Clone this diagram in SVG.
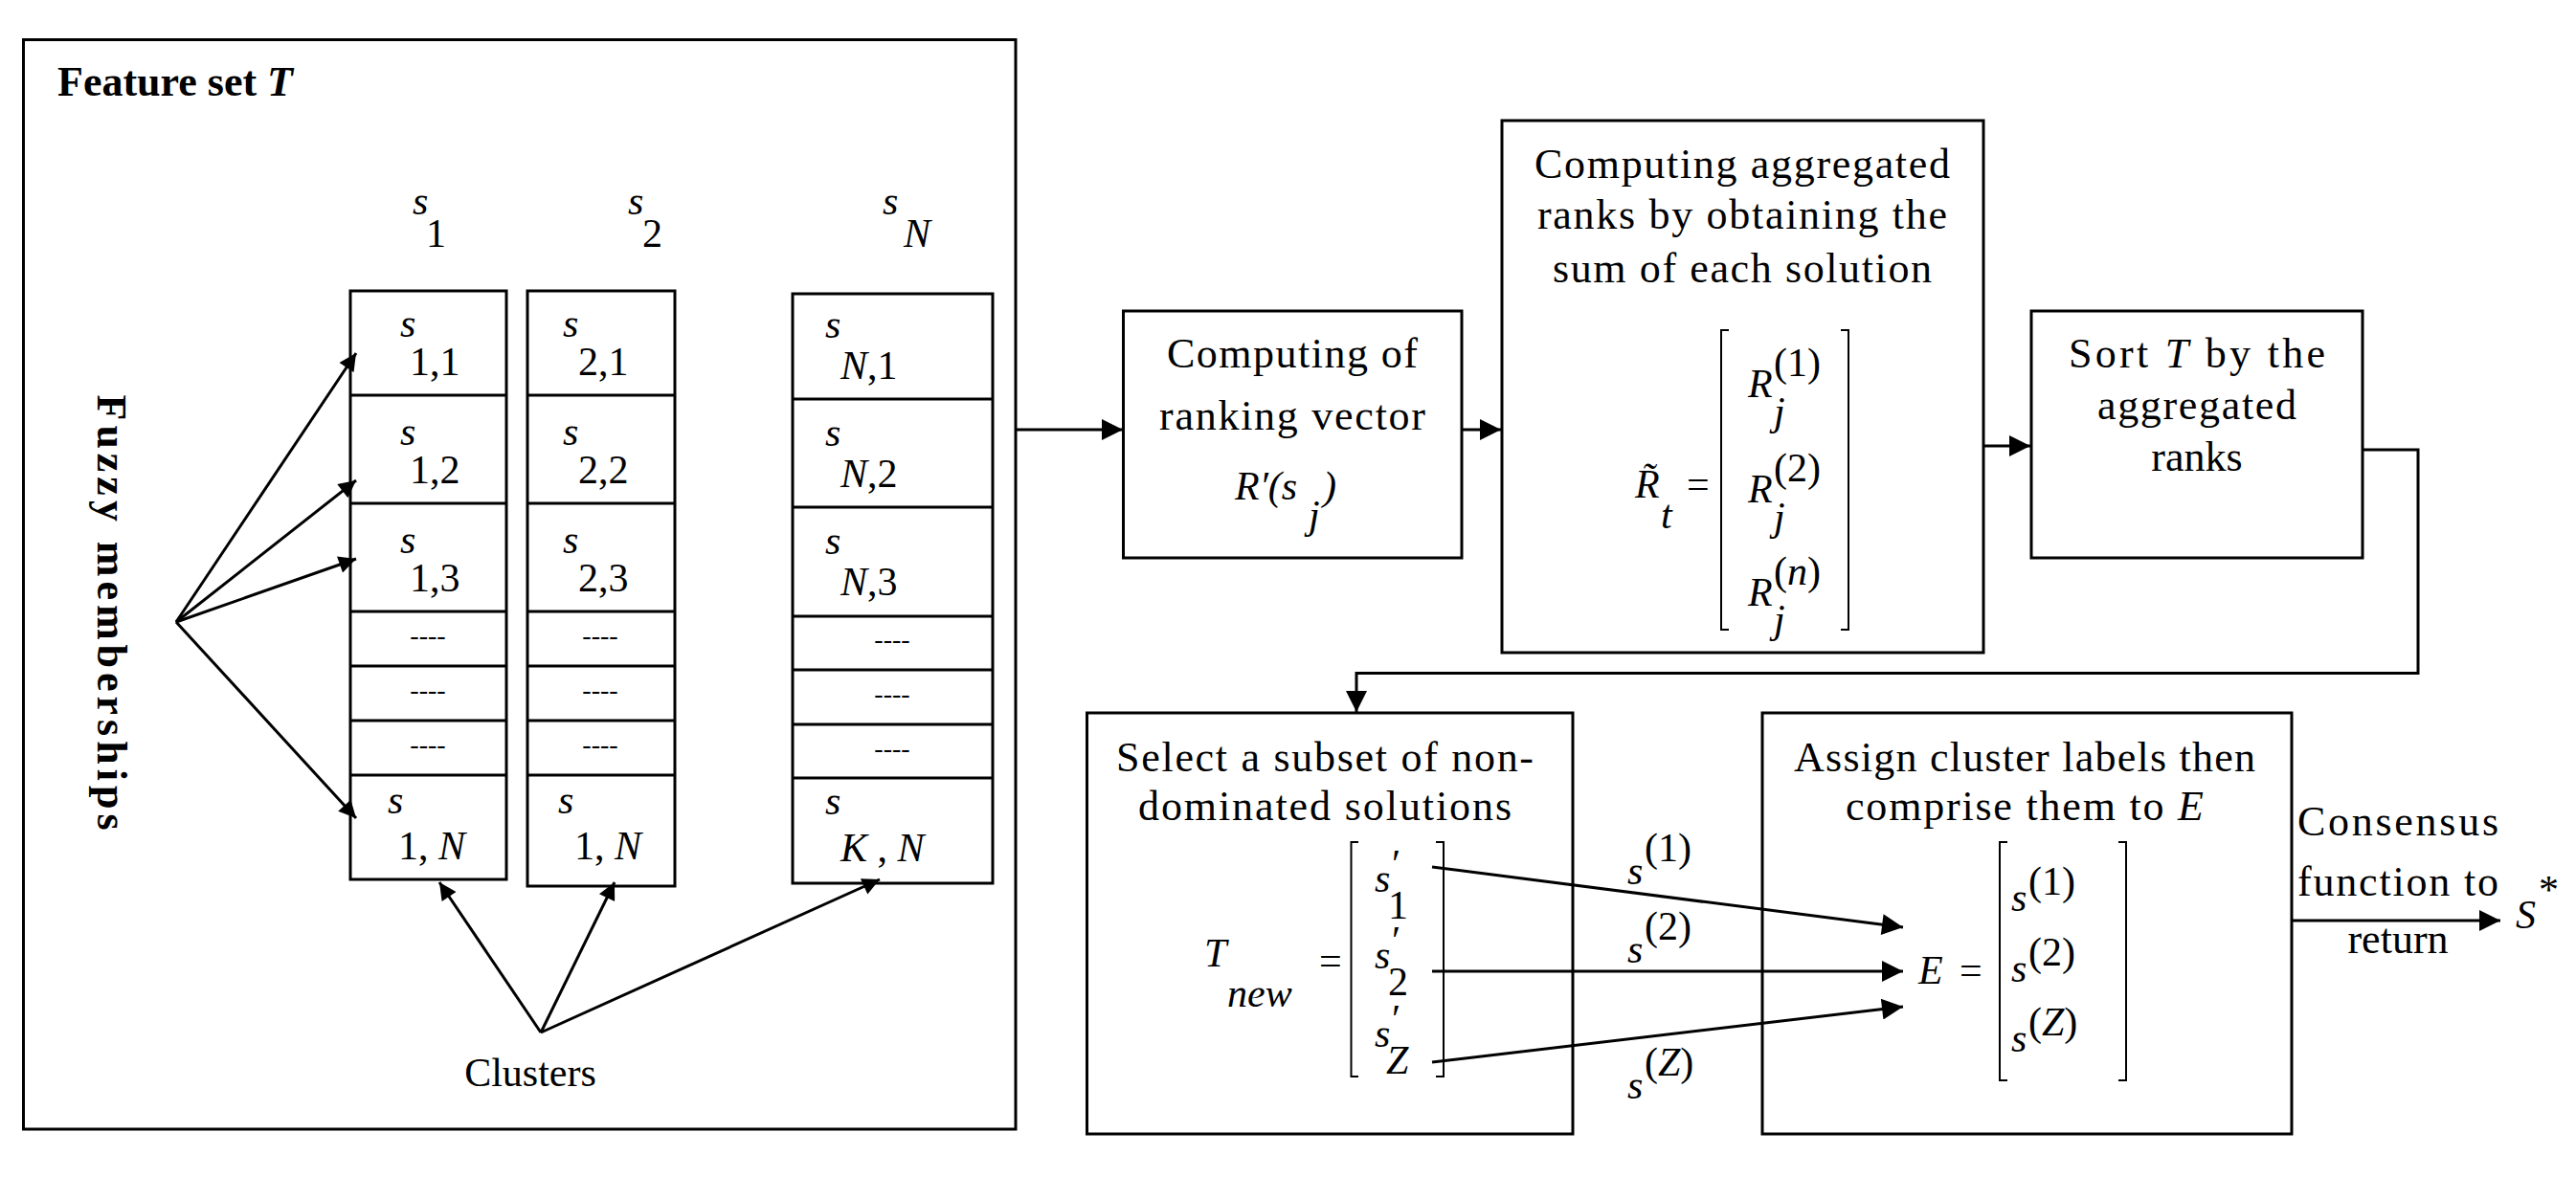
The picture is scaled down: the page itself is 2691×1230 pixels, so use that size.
<svg xmlns="http://www.w3.org/2000/svg" width="2691" height="1230" viewBox="0 0 2691 1230">
<style>
.b{fill:none;stroke:#000;stroke-width:3}
.c{fill:none;stroke:#000;stroke-width:3}
.t{font-family:"Liberation Serif","Times New Roman",serif;font-size:44px;fill:#000}
.m{font-family:"Liberation Serif","Times New Roman",serif;font-size:42px;fill:#000;font-style:italic}
.u{font-family:"Liberation Serif","Times New Roman",serif;font-size:42px;fill:#000}
.d{font-family:"Liberation Serif","Times New Roman",serif;font-size:28px;fill:#000}
.br{fill:none;stroke:#000;stroke-width:2}
</style>
<defs>
<marker id="a" viewBox="0 0 10 10" refX="10" refY="5" markerWidth="22" markerHeight="18" markerUnits="userSpaceOnUse" orient="auto">
<path d="M0,0L10,5L0,10z"/>
</marker>
<marker id="ah" viewBox="0 0 10 10" refX="10" refY="5" markerWidth="24" markerHeight="22" markerUnits="userSpaceOnUse" orient="auto">
<path d="M0,0L10,5L0,10z"/>
</marker>
</defs>
<rect width="2691" height="1230" fill="#fff"/>

<g id="featureset">
<rect class="b" x="24.5" y="41.5" width="1036.5" height="1138.5"/>
<text x="60" y="100" class="t" font-weight="bold" font-size="40">Feature set <tspan font-style="italic">T</tspan></text>
<text class="t" font-weight="bold" transform="translate(102,640) rotate(90)" text-anchor="middle" textLength="455">Fuzzy memberships</text>
<text x="554" y="1135" class="u" text-anchor="middle">Clusters</text>
<text x="431" y="224" class="m">s</text><text x="445" y="258" class="u">1</text>
<text x="656" y="224" class="m">s</text><text x="671" y="258" class="u">2</text>
<text x="922" y="224" class="m">s</text><text x="944" y="258" class="m">N</text>
</g>

<g id="col1">
<rect class="b" x="366" y="304" width="163" height="615"/>
<path class="b" d="M366,413H529M366,526H529M366,639H529M366,696H529M366,753H529M366,810H529"/>
<text x="418" y="352" class="m">s</text><text x="428" y="392" class="u">1,1</text>
<text x="418" y="465" class="m">s</text><text x="428" y="505" class="u">1,2</text>
<text x="418" y="578" class="m">s</text><text x="428" y="618" class="u">1,3</text>
<text x="447" y="673" class="d" text-anchor="middle">----</text>
<text x="447" y="730" class="d" text-anchor="middle">----</text>
<text x="447" y="787" class="d" text-anchor="middle">----</text>
<text x="405" y="850" class="m">s</text><text x="416" y="898" class="u">1, <tspan font-style="italic">N</tspan></text>
</g>

<g id="col2">
<rect class="b" x="551" y="304" width="154" height="622"/>
<path class="b" d="M551,413H705M551,526H705M551,639H705M551,696H705M551,753H705M551,810H705"/>
<text x="588" y="352" class="m">s</text><text x="604" y="392" class="u">2,1</text>
<text x="588" y="465" class="m">s</text><text x="604" y="505" class="u">2,2</text>
<text x="588" y="578" class="m">s</text><text x="604" y="618" class="u">2,3</text>
<text x="627" y="673" class="d" text-anchor="middle">----</text>
<text x="627" y="730" class="d" text-anchor="middle">----</text>
<text x="627" y="787" class="d" text-anchor="middle">----</text>
<text x="583" y="850" class="m">s</text><text x="600" y="898" class="u">1, <tspan font-style="italic">N</tspan></text>
</g>

<g id="colN">
<rect class="b" x="828" y="307" width="209" height="616"/>
<path class="b" d="M828,417H1037M828,530H1037M828,644H1037M828,700H1037M828,757H1037M828,813H1037"/>
<text x="862" y="353" class="m">s</text><text x="878" y="396" class="u"><tspan font-style="italic">N</tspan>,1</text>
<text x="862" y="466" class="m">s</text><text x="878" y="509" class="u"><tspan font-style="italic">N</tspan>,2</text>
<text x="862" y="579" class="m">s</text><text x="878" y="622" class="u"><tspan font-style="italic">N</tspan>,3</text>
<text x="932" y="677" class="d" text-anchor="middle">----</text>
<text x="932" y="734" class="d" text-anchor="middle">----</text>
<text x="932" y="791" class="d" text-anchor="middle">----</text>
<text x="862" y="851" class="m">s</text><text x="878" y="900" class="u"><tspan font-style="italic">K</tspan> , <tspan font-style="italic">N</tspan></text>
</g>

<g id="ranking">
<rect class="b" x="1173.5" y="325" width="353.5" height="258"/>
<text x="1350" y="384" class="t" text-anchor="middle" textLength="262">Computing of</text>
<text x="1350" y="449" class="t" text-anchor="middle" textLength="278">ranking vector</text>
<text x="1290" y="522" class="m">R′(s</text><text x="1367" y="552" class="m" font-size="32">j</text><text x="1382" y="522" class="m">)</text>
</g>

<g id="aggregated">
<rect class="b" x="1569" y="126" width="503" height="556"/>
<text x="1820" y="186" class="t" text-anchor="middle" textLength="434">Computing aggregated</text>
<text x="1820" y="239" class="t" text-anchor="middle" textLength="428">ranks by obtaining the</text>
<text x="1820" y="295" class="t" text-anchor="middle" textLength="396">sum of each solution</text>
<text x="1708" y="520" class="m">R̃</text><text x="1735" y="552" class="m" font-size="32">t</text>
<text x="1762" y="520" class="u">=</text>
<path class="br" d="M1806,345H1798V658H1806M1923,345H1931V658H1923"/>
<text x="1826" y="415" class="m">R</text><text x="1853" y="393" class="u" font-size="32">(1)</text><text x="1853" y="444" class="m" font-size="32">j</text>
<text x="1826" y="525" class="m">R</text><text x="1853" y="503" class="u" font-size="32">(2)</text><text x="1853" y="554" class="m" font-size="32">j</text>
<text x="1826" y="633" class="m">R</text><text x="1853" y="611" class="u" font-size="32">(<tspan font-style="italic">n</tspan>)</text><text x="1853" y="661" class="m" font-size="32">j</text>
</g>

<g id="sort">
<rect class="b" x="2122" y="325" width="346" height="258"/>
<text x="2295" y="384" class="t" text-anchor="middle" textLength="268">Sort <tspan font-style="italic">T</tspan> by the</text>
<text x="2295" y="438" class="t" text-anchor="middle" textLength="208">aggregated</text>
<text x="2295" y="492" class="t" text-anchor="middle">ranks</text>
</g>

<g id="select">
<rect class="b" x="1135.5" y="745" width="507.5" height="440"/>
<text x="1384" y="806" class="t" text-anchor="middle" textLength="436">Select a subset of non-</text>
<text x="1384" y="857" class="t" text-anchor="middle" textLength="390">dominated solutions</text>
<text x="1258" y="1010" class="m">T</text><text x="1282" y="1052" class="m" font-size="32">new</text>
<text x="1378" y="1018" class="u">=</text>
<path class="br" d="M1419,880H1411.5V1125H1419M1500,880H1508V1125H1500"/>
<text x="1436" y="932" class="m">s</text><text x="1454" y="917" class="u" font-size="28">′</text><text x="1450" y="960" class="u" font-size="30">1</text>
<text x="1436" y="1012" class="m">s</text><text x="1454" y="997" class="u" font-size="28">′</text><text x="1450" y="1040" class="u" font-size="30">2</text>
<text x="1436" y="1094" class="m">s</text><text x="1454" y="1079" class="u" font-size="28">′</text><text x="1448" y="1122" class="m" font-size="30">Z</text>
</g>

<g id="assign">
<rect class="b" x="1841" y="745" width="553" height="440"/>
<text x="2115" y="806" class="t" text-anchor="middle" textLength="482">Assign cluster labels then</text>
<text x="2115" y="857" class="t" text-anchor="middle" textLength="374">comprise them to <tspan font-style="italic">E</tspan></text>
<text x="2004" y="1028" class="m">E</text><text x="2047" y="1028" class="u">=</text>
<path class="br" d="M2097,880H2089V1129H2097M2213,880H2221V1129H2213"/>
<text x="2101" y="952" class="m">s</text><text x="2119" y="935" class="u" font-size="34">(1)</text>
<text x="2101" y="1026" class="m">s</text><text x="2119" y="1009" class="u" font-size="34">(2)</text>
<text x="2101" y="1099" class="m">s</text><text x="2119" y="1082" class="u" font-size="34">(<tspan font-style="italic">Z</tspan>)</text>
</g>

<g id="consensus">
<text x="2505" y="873" class="t" text-anchor="middle" textLength="210">Consensus</text>
<text x="2505" y="936" class="t" text-anchor="middle" textLength="210">function to</text>
<text x="2505" y="996" class="t" text-anchor="middle">return</text>
<text x="2628" y="970" class="m" font-size="46">S</text><text x="2652" y="944" class="u" font-size="32">*</text>
</g>

<g id="connectors">
<g class="c" marker-end="url(#a)">
<path d="M184,650L372,369"/><path d="M184,650L372,502"/><path d="M184,650L372,584"/><path d="M184,650L372,855"/>
<path d="M565,1079L459,922"/><path d="M565,1079L642,922"/><path d="M565,1079L919,919"/>
</g>
<g class="c" marker-end="url(#ah)">
<path d="M1061,449H1173"/>
<path d="M1527,449H1568"/>
<path d="M2072,466H2121"/>
<path d="M2468,470H2526V703.5H1417V744"/>
<path d="M1496,906L1988,969"/>
<path d="M1496,1015H1988"/>
<path d="M1496,1110L1988,1052"/>
<path d="M2394,962H2612"/>
</g>
<text x="1700" y="924" class="m">s</text><text x="1718" y="900" class="u" font-size="34">(1)</text>
<text x="1700" y="1006" class="m">s</text><text x="1718" y="982" class="u" font-size="34">(2)</text>
<text x="1700" y="1148" class="m">s</text><text x="1718" y="1124" class="u" font-size="34">(<tspan font-style="italic">Z</tspan>)</text>
</g>
</svg>
